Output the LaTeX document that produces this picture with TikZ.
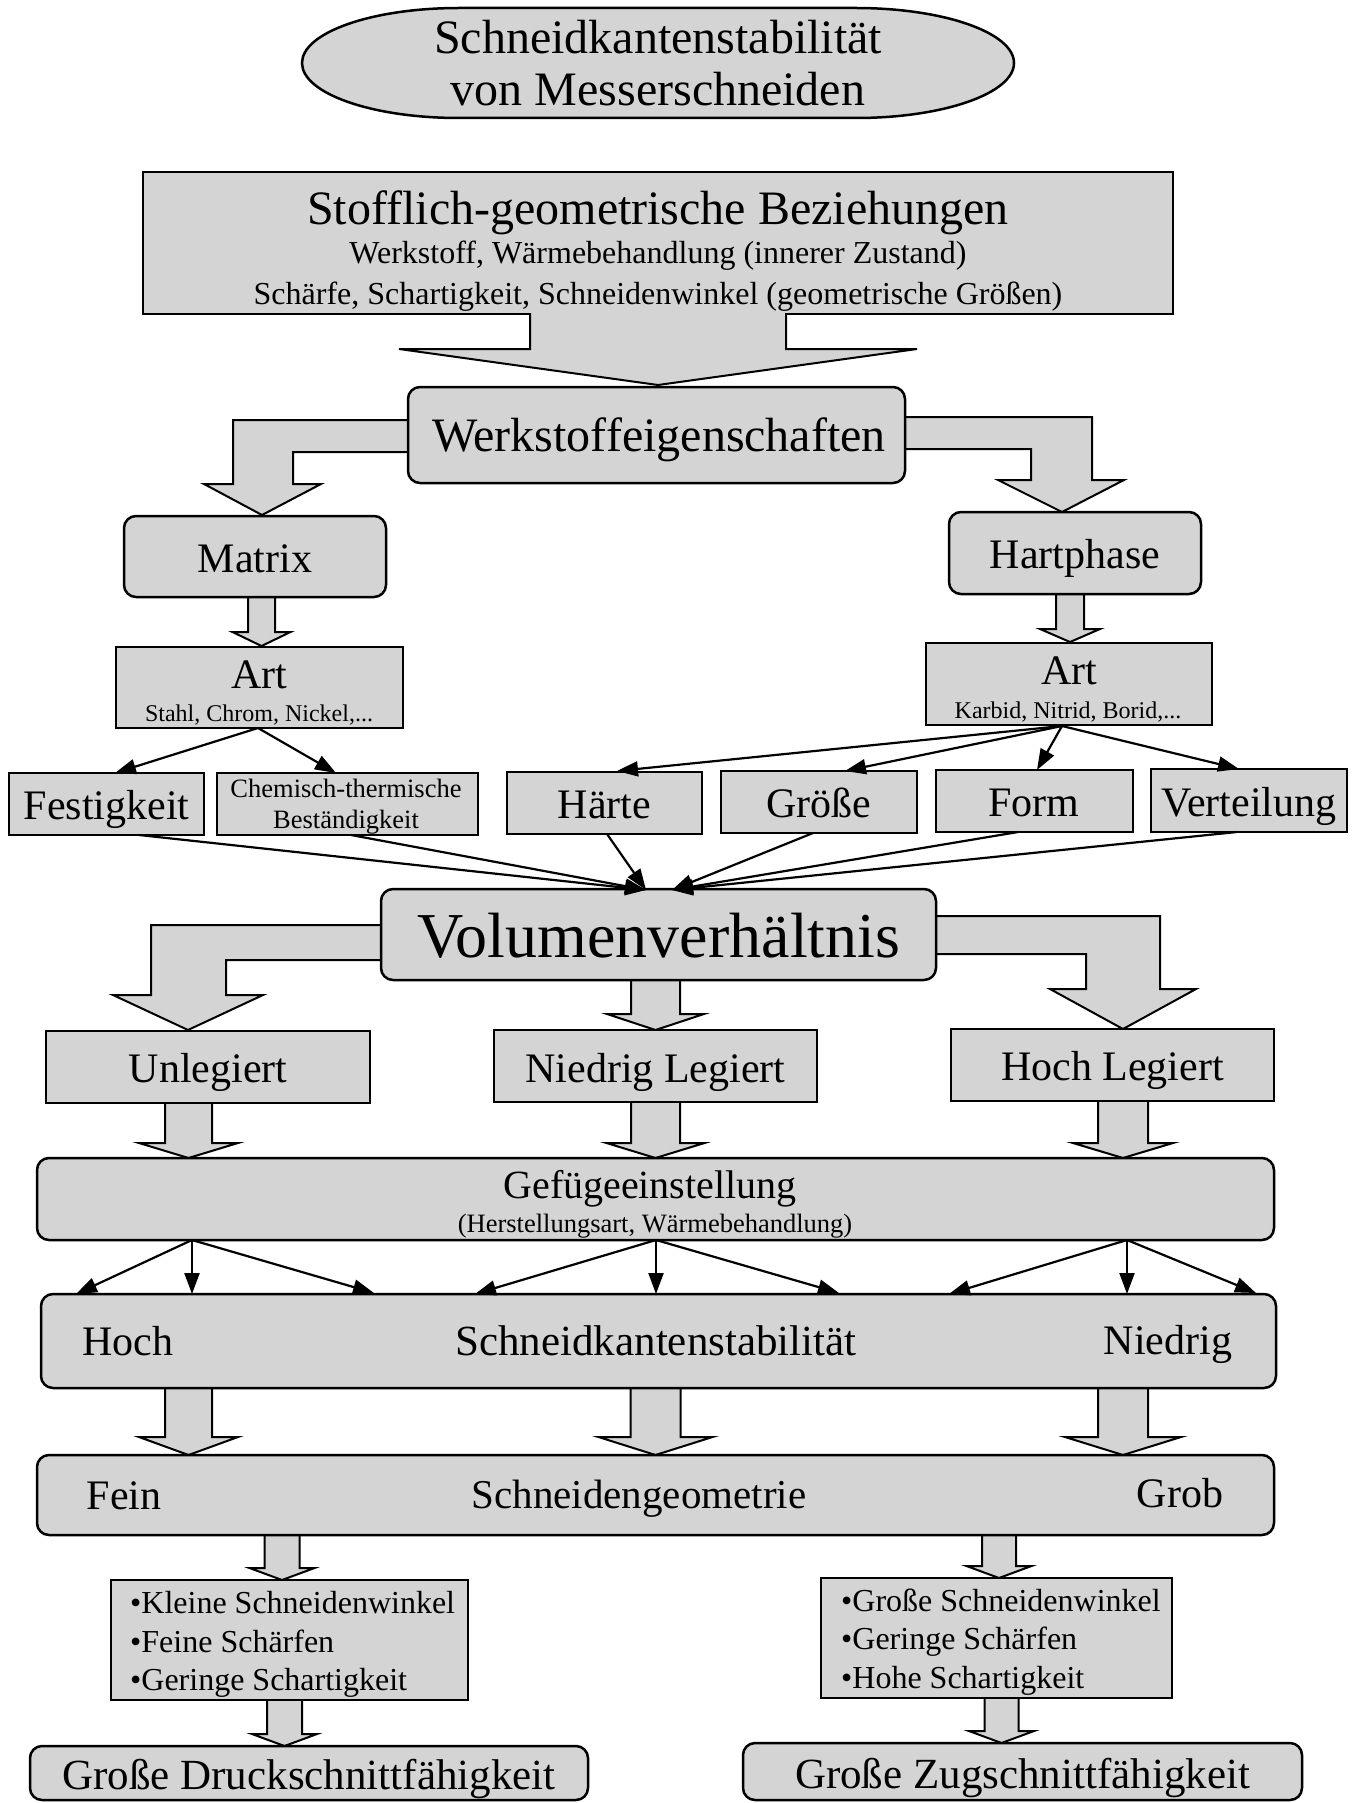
\documentclass[tikz,border=0pt]{standalone}
\usepackage{fontspec}
\setmainfont{Liberation Serif}
\usetikzlibrary{arrows.meta}
\definecolor{boxgray}{gray}{0.83}
\newcommand{\fsz}[1]{\fontsize{#1pt}{#1pt}\selectfont}
% x, ytop, ytip, halfshaft, halfhead, headlength
\newcommand{\dnarrow}[6]{\filldraw[barrow] ({#1-#4},#2) -- ({#1-#4},{#3-#6}) -- ({#1-#5},{#3-#6}) -- (#1,#3) -- ({#1+#5},{#3-#6}) -- ({#1+#4},{#3-#6}) -- ({#1+#4},#2) -- cycle;}
\begin{document}
\begin{tikzpicture}[x=1pt,y=-1pt,
  box/.style={draw=black,fill=boxgray,line width=2.5pt,inner sep=0pt,outer sep=0pt},
  rbox/.style={box,rounded corners=12pt},
  barrow/.style={draw=black,fill=boxgray,line width=2pt,line join=miter},
  conn/.style={draw=black,line width=2.2pt,-{Triangle[length=21pt,width=15pt]}},
  lbl/.style={inner sep=0pt,anchor=base}]
\fill[white] (0,0) rectangle (1359,1803);
\useasboundingbox (0,0) rectangle (1359,1803);

% ---------- block arrows (drawn below the boxes) ----------
% Werkstoffeigenschaften -> Matrix / Hartphase
\filldraw[barrow] (420,420) -- (233,420) -- (233,484) -- (204,484) -- (262,515) -- (321,484) -- (293,484) -- (293,452) -- (420,452) -- cycle;
\filldraw[barrow] (895,417) -- (1092,417) -- (1092,480) -- (1124,480) -- (1062,512) -- (998,480) -- (1031,480) -- (1031,449) -- (895,449) -- cycle;
% Matrix -> Art, Hartphase -> Art
\dnarrow{261.5}{590}{646}{13.5}{29}{14}
\dnarrow{1070}{588}{642}{14}{30}{13}
% Volumenverhaeltnis -> three classes
\filldraw[barrow] (395,925) -- (151,925) -- (151,995) -- (113,995) -- (188,1030) -- (263,995) -- (226,995) -- (226,960) -- (395,960) -- cycle;
\filldraw[barrow] (920,916) -- (1160,916) -- (1160,989) -- (1196,989) -- (1123,1029) -- (1050,989) -- (1086,989) -- (1086,954) -- (920,954) -- cycle;
\dnarrow{655.5}{975}{1030}{24.5}{48.5}{16}
% classes -> Gefuege
\dnarrow{188.5}{1100}{1158}{23.5}{49.5}{15}
\dnarrow{655.5}{1100}{1158}{24.5}{49}{15}
\dnarrow{1123}{1099}{1158}{25}{50}{15}
% Schneidkantenstabilitaet -> Schneidengeometrie
\dnarrow{188.5}{1385}{1455}{23.5}{49.5}{18}
\dnarrow{655.5}{1385}{1455}{25}{57}{18}
\dnarrow{1123}{1385}{1455}{25}{58}{18}
% Schneidengeometrie -> lists
\dnarrow{282}{1532}{1580}{17.5}{32.5}{12}
\dnarrow{999}{1532}{1578}{17}{32.5}{12}
% lists -> results
\dnarrow{284.5}{1698}{1746}{17.5}{32.5}{12}
\dnarrow{1001.5}{1696}{1743}{17}{32.5}{12}

% ---------- title ----------
\filldraw[box] (459,8) -- (856,8) .. controls (943.3,8) and (1014,32.6) .. (1014,63) .. controls (1014,93.4) and (943.3,118) .. (856,118) -- (459,118) .. controls (371.7,118) and (302,93.4) .. (302,63) .. controls (302,32.6) and (371.7,8) .. (459,8) -- cycle;
\node[lbl,font=\fsz{48}] (t1) at (658,54) {Schneidkantenstabilität};
\node[lbl,font=\fsz{48}] (t2) at (658,106) {von Messerschneiden};

% ---------- boxes ----------
\node[box,minimum width=1030pt,minimum height=142pt] (stoff) at (658,243) {};
\node[rbox,minimum width=497pt,minimum height=96pt] (werk) at (656.5,435) {};
\node[rbox,minimum width=262pt,minimum height=81pt] (matrix) at (255,556.5) {};
\node[rbox,minimum width=252pt,minimum height=82pt] (hart) at (1075,553) {};
\node[box,minimum width=287pt,minimum height=81pt] (artL) at (259.5,687.5) {};
\node[box,minimum width=286pt,minimum height=82pt] (artR) at (1069,684) {};
\node[box,minimum width=195pt,minimum height=62pt] (fest) at (106.5,804) {};
\node[box,minimum width=261pt,minimum height=62pt] (chem) at (347.5,804) {};
\node[box,minimum width=195pt,minimum height=62pt] (haerte) at (604.5,803) {};
\node[box,minimum width=196pt,minimum height=62pt] (groesse) at (819,802) {};
\node[box,minimum width=197pt,minimum height=62pt] (form) at (1034.5,801) {};
\node[box,minimum width=196pt,minimum height=63pt] (vert) at (1249,800.5) {};
\node[rbox,minimum width=555pt,minimum height=91pt] (vol) at (658.5,934.5) {};
\node[box,minimum width=324pt,minimum height=72pt] (unl) at (208,1067) {};
\node[box,minimum width=323pt,minimum height=72pt] (nied) at (655.5,1066) {};
\node[box,minimum width=323pt,minimum height=72pt] (hochl) at (1112.5,1065) {};
\node[rbox,minimum width=1237pt,minimum height=82pt] (gef) at (655.5,1199) {};
\node[rbox,minimum width=1235pt,minimum height=94pt] (skst) at (658.5,1341) {};
\node[rbox,minimum width=1237pt,minimum height=80pt] (sgeo) at (655.5,1495) {};
\node[box,minimum width=357pt,minimum height=120pt] (listL) at (289.5,1640) {};
\node[box,minimum width=351pt,minimum height=120pt] (listR) at (996.5,1638) {};
\node[rbox,minimum width=558pt,minimum height=54pt] (botL) at (309,1773) {};
\node[rbox,minimum width=559pt,minimum height=57pt] (botR) at (1022.5,1771.5) {};

% big arrow out of the Stofflich box (merged with it)
\fill[boxgray] (530,311) -- (530,349) -- (399,349) -- (658,385) -- (917,349) -- (786,349) -- (786,311) -- cycle;
\draw[line width=2pt,line join=miter] (530,313) -- (530,349) -- (399,349) -- (658,385) -- (917,349) -- (786,349) -- (786,313);

% ---------- texts ----------
\node[lbl,font=\fsz{48}] (s1) at (658,225) {Stofflich-geometrische Beziehungen};
\node[lbl,font=\fsz{32}] (s2) at (658,264) {Werkstoff, Wärmebehandlung (innerer Zustand)};
\node[lbl,font=\fsz{32}] (s3) at (658,304) {Schärfe, Schartigkeit, Schneidenwinkel (geometrische Größen)};
\node[lbl,font=\fsz{48}] (wt) at (659,451) {Werkstoffeigenschaften};
\node[lbl,font=\fsz{42}] (mt) at (255,572) {Matrix};
\node[lbl,font=\fsz{42}] (ht) at (1075,568) {Hartphase};
\node[lbl,font=\fsz{42}] (alt) at (259,688) {Art};
\node[lbl,font=\fsz{24}] (als) at (259,721) {Stahl, Chrom, Nickel,...};
\node[lbl,font=\fsz{42}] (art) at (1069,684) {Art};
\node[lbl,font=\fsz{24}] (ars) at (1068,718) {Karbid, Nitrid, Borid,...};
\node[lbl,font=\fsz{42}] (ft) at (106.5,819) {Festigkeit};
\node[lbl,font=\fsz{26.5}] (ct1) at (346,797) {Chemisch-thermische};
\node[lbl,font=\fsz{26.5}] (ct2) at (346,828) {Beständigkeit};
\node[lbl,font=\fsz{42}] (hat) at (604.5,818) {Härte};
\node[lbl,font=\fsz{42}] (gst) at (819,817) {Größe};
\node[lbl,font=\fsz{42}] (fot) at (1034,816) {Form};
\node[lbl,font=\fsz{42}] (vtt) at (1249,816) {Verteilung};
\node[lbl,font=\fsz{64}] (vot) at (659,957) {Volumenverhältnis};
\node[lbl,font=\fsz{42}] (ut) at (208,1082) {Unlegiert};
\node[lbl,font=\fsz{42}] (nt) at (655.5,1082) {Niedrig Legiert};
\node[lbl,font=\fsz{42}] (hlt) at (1112.5,1080) {Hoch Legiert};
\node[lbl,font=\fsz{40}] (gt1) at (650,1198) {Gefügeeinstellung};
\node[lbl,font=\fsz{26.5}] (gt2) at (655,1232) {(Herstellungsart, Wärmebehandlung)};
\node[lbl,font=\fsz{42}] (k1) at (128,1355) {Hoch};
\node[lbl,font=\fsz{43}] (k2) at (656,1355) {Schneidkantenstabilität};
\node[lbl,font=\fsz{42}] (k3) at (1168,1354) {Niedrig};
\node[lbl,font=\fsz{42}] (g1) at (124,1509) {Fein};
\node[lbl,font=\fsz{41}] (g2) at (639,1508) {Schneidengeometrie};
\node[lbl,font=\fsz{42}] (g3) at (1180,1507) {Grob};
\node[lbl,anchor=base west,font=\fsz{32}] (l1) at (130,1613) {•Kleine Schneidenwinkel};
\node[lbl,anchor=base west,font=\fsz{32}] (l2) at (130,1652) {•Feine Schärfen};
\node[lbl,anchor=base west,font=\fsz{32}] (l3) at (130,1690) {•Geringe Schartigkeit};
\node[lbl,anchor=base west,font=\fsz{32}] (r1) at (841,1611) {•Große Schneidenwinkel};
\node[lbl,anchor=base west,font=\fsz{32}] (r2) at (841,1649) {•Geringe Schärfen};
\node[lbl,anchor=base west,font=\fsz{32}] (r3) at (841,1688) {•Hohe Schartigkeit};
\node[lbl,font=\fsz{43}] (b1) at (309,1789) {Große Druckschnittfähigkeit};
\node[lbl,font=\fsz{43}] (b2) at (1022.5,1788) {Große Zugschnittfähigkeit};

% ---------- thin connectors ----------
\coordinate (aLo) at (258,728);
\coordinate (festIn) at (115,773);
\coordinate (chemIn) at (336,773);
\draw[conn] (aLo) -- (festIn);
\draw[conn] (aLo) -- (chemIn);
\coordinate (aRo) at (1062,726);
\coordinate (haIn) at (617,771);
\coordinate (grIn) at (845,771);
\coordinate (foIn) at (1037,770);
\coordinate (veIn) at (1239,769);
\draw[conn] (aRo) -- (haIn);
\draw[conn] (aRo) -- (grIn);
\draw[conn] (aRo) -- (foIn);
\draw[conn] (aRo) -- (veIn);
\coordinate (volL) at (646,890);
\coordinate (volR) at (672,890);
\coordinate (festOut) at (139,835);
\coordinate (chemOut) at (351,835);
\coordinate (haOut) at (607,834);
\coordinate (grOut) at (813,833);
\coordinate (foOut) at (1018,832);
\coordinate (veOut) at (1237,832);
\draw[conn] (festOut) -- (volL);
\draw[conn] (chemOut) -- (volL);
\draw[conn] (haOut) -- (volL);
\draw[conn] (grOut) -- (volR);
\draw[conn] (foOut) -- (volR);
\draw[conn] (veOut) -- (volR);
\coordinate (gA) at (192,1240);
\coordinate (gB) at (656,1240);
\coordinate (gC) at (1127,1240);
\coordinate (sA1) at (76,1294);
\coordinate (sA2) at (192,1294);
\coordinate (sA3) at (374,1293);
\coordinate (sB1) at (475,1294);
\coordinate (sB2) at (656,1294);
\coordinate (sB3) at (839,1293);
\coordinate (sC1) at (949,1294);
\coordinate (sC2) at (1127,1294);
\coordinate (sC3) at (1256,1293);
\foreach \s in {sA1,sA2,sA3} \draw[conn] (gA) -- (\s);
\foreach \s in {sB1,sB2,sB3} \draw[conn] (gB) -- (\s);
\foreach \s in {sC1,sC2,sC3} \draw[conn] (gC) -- (\s);
\end{tikzpicture}
\end{document}
